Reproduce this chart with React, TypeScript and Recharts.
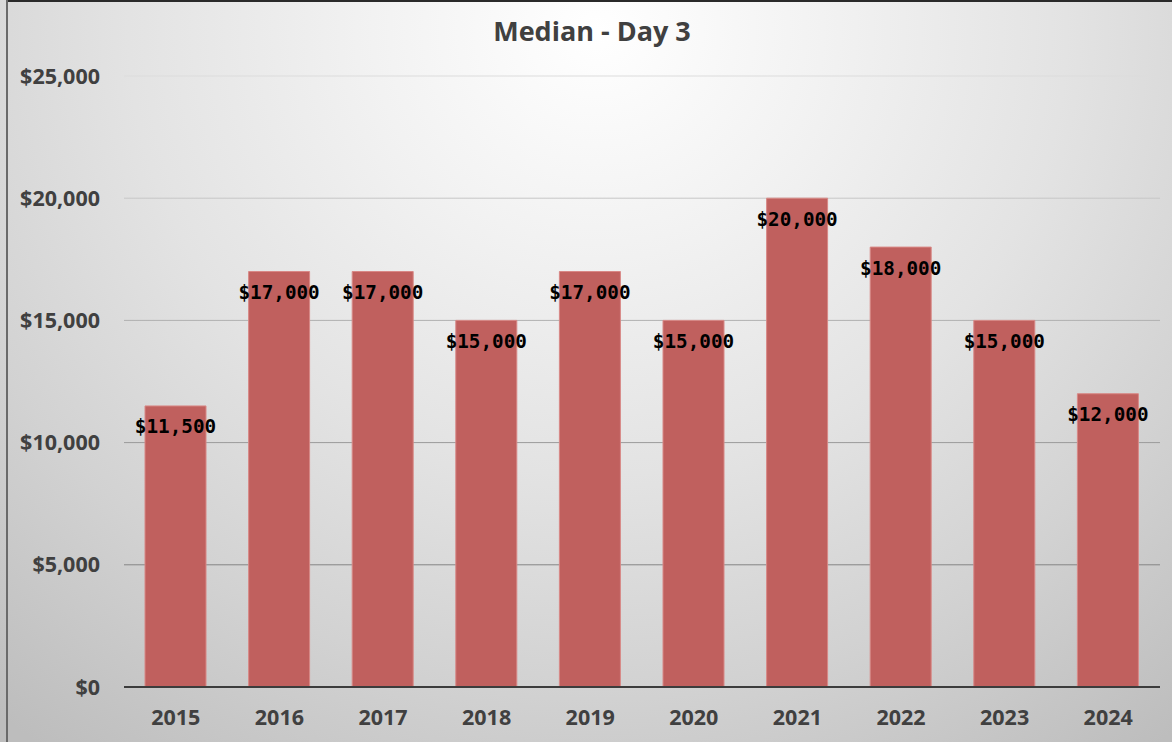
import * as React from 'react';
import { BarChart, Bar, XAxis, YAxis, CartesianGrid, LabelList } from 'recharts';

const years = ['2015', '2016', '2017', '2018', '2019', '2020', '2021', '2022', '2023', '2024'];
const medianDay3 = [11500, 17000, 17000, 15000, 17000, 15000, 20000, 18000, 15000, 12000];
const yTicks = [0, 5000, 10000, 15000, 20000, 25000];

const chartData = years.map((y, i) => ({ year: y, value: medianDay3[i] }));

const money = (v: number) => '$' + v.toLocaleString('en-US');

const axisFont = "'Open Sans', 'Noto Sans', sans-serif";

// value label sits just under the top of each bar
const ValueLabel = (props: any) => {
  const { x, y, width, value } = props;
  return (
    <text
      x={x + width / 2}
      y={y + 21}
      textAnchor="middle"
      dominantBaseline="central"
      fontFamily="'DejaVu Sans Mono', monospace"
      fontWeight="bold"
      fontSize={19.3}
      fill="#000"
    >
      {money(value)}
    </text>
  );
};

export default function App() {
  return (
    <div
      style={{
        position: 'absolute',
        left: 0,
        top: 0,
        width: 1172,
        height: 742,
        overflow: 'hidden',
        background:
          'radial-gradient(ellipse 80% 120% at 51% 4%, #ffffff 0%, #f2f2f2 24%, #e3e3e3 50%, #d2d2d2 74%, #bdbdbd 100%)',
      }}
    >
      {/* frame edges */}
      <div style={{ position: 'absolute', left: 6, top: 0, width: 1166, height: 2, background: '#2a2a2a' }} />
      <div style={{ position: 'absolute', left: 6, top: 0, width: 2, height: 742, background: '#6a6a6a' }} />

      <div
        style={{
          position: 'absolute',
          left: 0,
          top: 12,
          width: 1184,
          textAlign: 'center',
          fontFamily: axisFont,
          fontWeight: 700,
          fontSize: 27,
          color: '#404040',
        }}
      >
        Median - Day 3
      </div>

      <BarChart
        width={1172}
        height={742}
        data={chartData}
        margin={{ top: 76, right: 12, bottom: 0, left: 0 }}
      >
        <defs>
          <linearGradient id="gridFade" gradientUnits="userSpaceOnUse" x1="0" y1="76" x2="0" y2="687">
            <stop offset="0%" stopColor="#dcdcdc" />
            <stop offset="100%" stopColor="#6e6e6e" />
          </linearGradient>
        </defs>
        <CartesianGrid vertical={false} stroke="url(#gridFade)" strokeWidth={1} />
        <XAxis
          dataKey="year"
          height={55}
          tickSize={0}
          tickMargin={23}
          axisLine={{ stroke: '#3c3c3c', strokeWidth: 2 }}
          tickLine={false}
          tick={{ fontFamily: axisFont, fontWeight: 700, fontSize: 21.5, fill: '#404040' }}
        />
        <YAxis
          width={124}
          domain={[0, 25000]}
          ticks={yTicks}
          tickFormatter={money}
          axisLine={false}
          tickLine={false}
          tickSize={0}
          tickMargin={24}
          tick={{ fontFamily: axisFont, fontWeight: 700, fontSize: 21.5, fill: '#404040' }}
        />
        <Bar dataKey="value" fill="#c0605e" stroke="#d88886" strokeWidth={1} barSize={61} isAnimationActive={false}>
          <LabelList dataKey="value" content={ValueLabel} />
        </Bar>
      </BarChart>
    </div>
  );
}
